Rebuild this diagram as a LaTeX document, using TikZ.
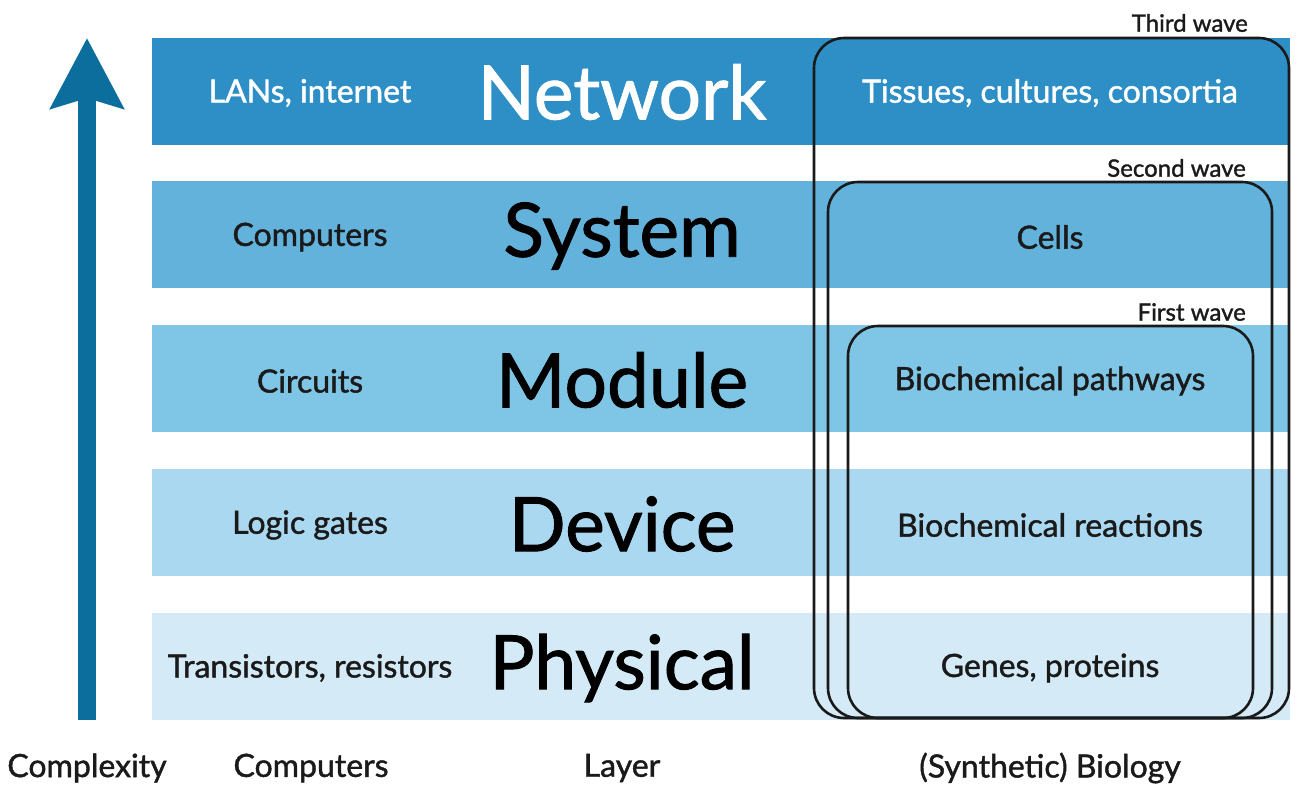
\documentclass[tikz,border=0pt]{standalone}
\usepackage{fontspec}
\setmainfont{Lato}[FakeBold=1.3]
\usetikzlibrary{arrows.meta}
\definecolor{bandA}{HTML}{2E8FC6}
\definecolor{bandB}{HTML}{62B2DC}
\definecolor{bandC}{HTML}{7FC6E6}
\definecolor{bandD}{HTML}{A9D8F0}
\definecolor{bandE}{HTML}{D4EBF7}
\definecolor{arrowcol}{HTML}{0B6E9C}
\definecolor{txt}{HTML}{1A1A1A}
\begin{document}
\begin{tikzpicture}[x=1pt,y=-1pt,
  band/.style={draw=none,minimum width=1138pt,minimum height=107pt,inner sep=0pt,anchor=north west},
  small/.style={font=\fontsize{32}{35}\selectfont,text=txt,inner sep=0pt},
  big/.style={font=\fontsize{75}{78}\selectfont,text=black,inner sep=0pt},
  wavelbl/.style={font=\fontsize{24}{26}\selectfont,text=txt,inner sep=0pt,anchor=east},
  wave/.style={draw=txt,line width=2.6pt,rounded corners=30pt},
  foot/.style={font=\fontsize{32}{35}\selectfont,text=txt,inner sep=0pt}]
\useasboundingbox (0,0) rectangle (1316,788);
% bands
\node[band,fill=bandA] (b1) at (152,38) {};
\node[band,fill=bandB] (b2) at (152,181) {};
\node[band,fill=bandC] (b3) at (152,325) {};
\node[band,fill=bandD] (b4) at (152,469) {};
\node[band,fill=bandE] (b5) at (152,613) {};
% arrow
\coordinate (as) at (87,720);
\coordinate (ae) at (87,38);
\draw[arrowcol,line width=18pt,-{Stealth[width=72pt,length=70pt,inset=10pt]}] (as) -- (ae);
% left column
\node[small,text=white] (c1) at (310,93) {LANs, internet};
\node[small] (c2) at (310,237) {Computers};
\node[small] (c3) at (310,381) {Circuits};
\node[small] (c4) at (310,525) {Logic gates};
\node[small] (c5) at (310,668) {Transistors, resistors};
% layer names
\node[big,text=white] (l1) at (622,92) {Network};
\node[big] (l2) at (622,236) {System};
\node[big] (l3) at (622,380) {Module};
\node[big] (l4) at (622,524) {Device};
\node[big] (l5) at (622,668) {Physical};
% biology
\node[small,text=white] (s1) at (1050,93) {Tissues, cultures, consortia};
\node[small] (s2) at (1050,237) {Cells};
\node[small] (s3) at (1050,381) {Biochemical pathways};
\node[small] (s4) at (1050,525) {Biochemical reactions};
\node[small] (s5) at (1050,668) {Genes, proteins};
% waves
\draw[wave] (814,38) rectangle (1289,718);
\draw[wave] (828,182) rectangle (1272,718);
\draw[wave] (848,326) rectangle (1253,718);
\node[wavelbl] (w3) at (1248,23) {Third wave};
\node[wavelbl] (w2) at (1246,168) {Second wave};
\node[wavelbl] (w1) at (1246,312) {First wave};
% footer
\node[foot] (f1) at (87,768) {Complexity};
\node[foot] (f2) at (311,768) {Computers};
\node[foot] (f3) at (622,768) {Layer};
\node[foot] (f4) at (1050,768) {(Synthetic) Biology};
\end{tikzpicture}
\end{document}
